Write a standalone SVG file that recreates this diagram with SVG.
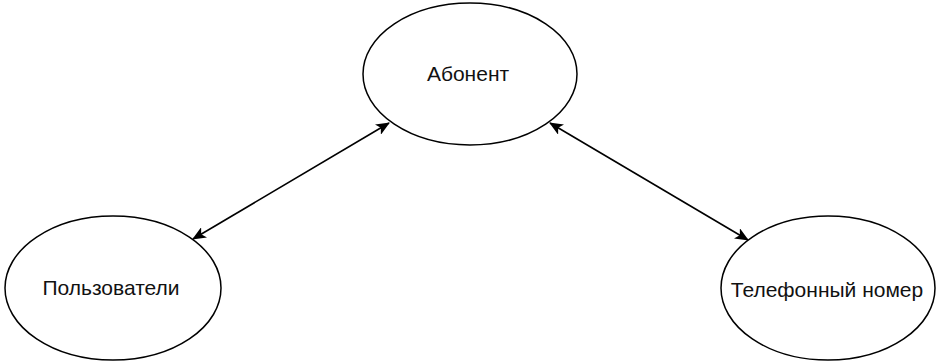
<svg xmlns="http://www.w3.org/2000/svg" width="936" height="361" viewBox="0 0 936 361">
<style>
.n{fill:#fff;stroke:#000;stroke-width:1.5}
.t{font-family:"Liberation Sans",Arial,sans-serif;font-size:21px;fill:#111;text-anchor:middle}
.c{stroke:#000;stroke-width:1.6;fill:none;marker-start:url(#a);marker-end:url(#a)}
</style>
<defs>
<marker id="a" viewBox="0 0 14 12" refX="13" refY="6" markerWidth="14" markerHeight="12" markerUnits="userSpaceOnUse" orient="auto-start-reverse">
<path d="M0,0 L14,6 L0,12 L3.5,6 Z" fill="#000"/>
</marker>
</defs>
<rect width="936" height="361" fill="#fff"/>
<g id="connectors">
<line class="c" x1="193" y1="239" x2="389" y2="123"/>
<line class="c" x1="550" y1="123" x2="748" y2="240"/>
</g>
<g id="abonent">
<ellipse class="n" cx="470" cy="74" rx="107" ry="71"/>
<text class="t" x="468" y="81">Абонент</text>
</g>
<g id="users">
<ellipse class="n" cx="113" cy="288" rx="108" ry="72"/>
<text class="t" x="111" y="295">Пользователи</text>
</g>
<g id="phone">
<ellipse class="n" cx="828" cy="288" rx="107" ry="72"/>
<text class="t" x="827" y="297">Телефонный номер</text>
</g>
</svg>
